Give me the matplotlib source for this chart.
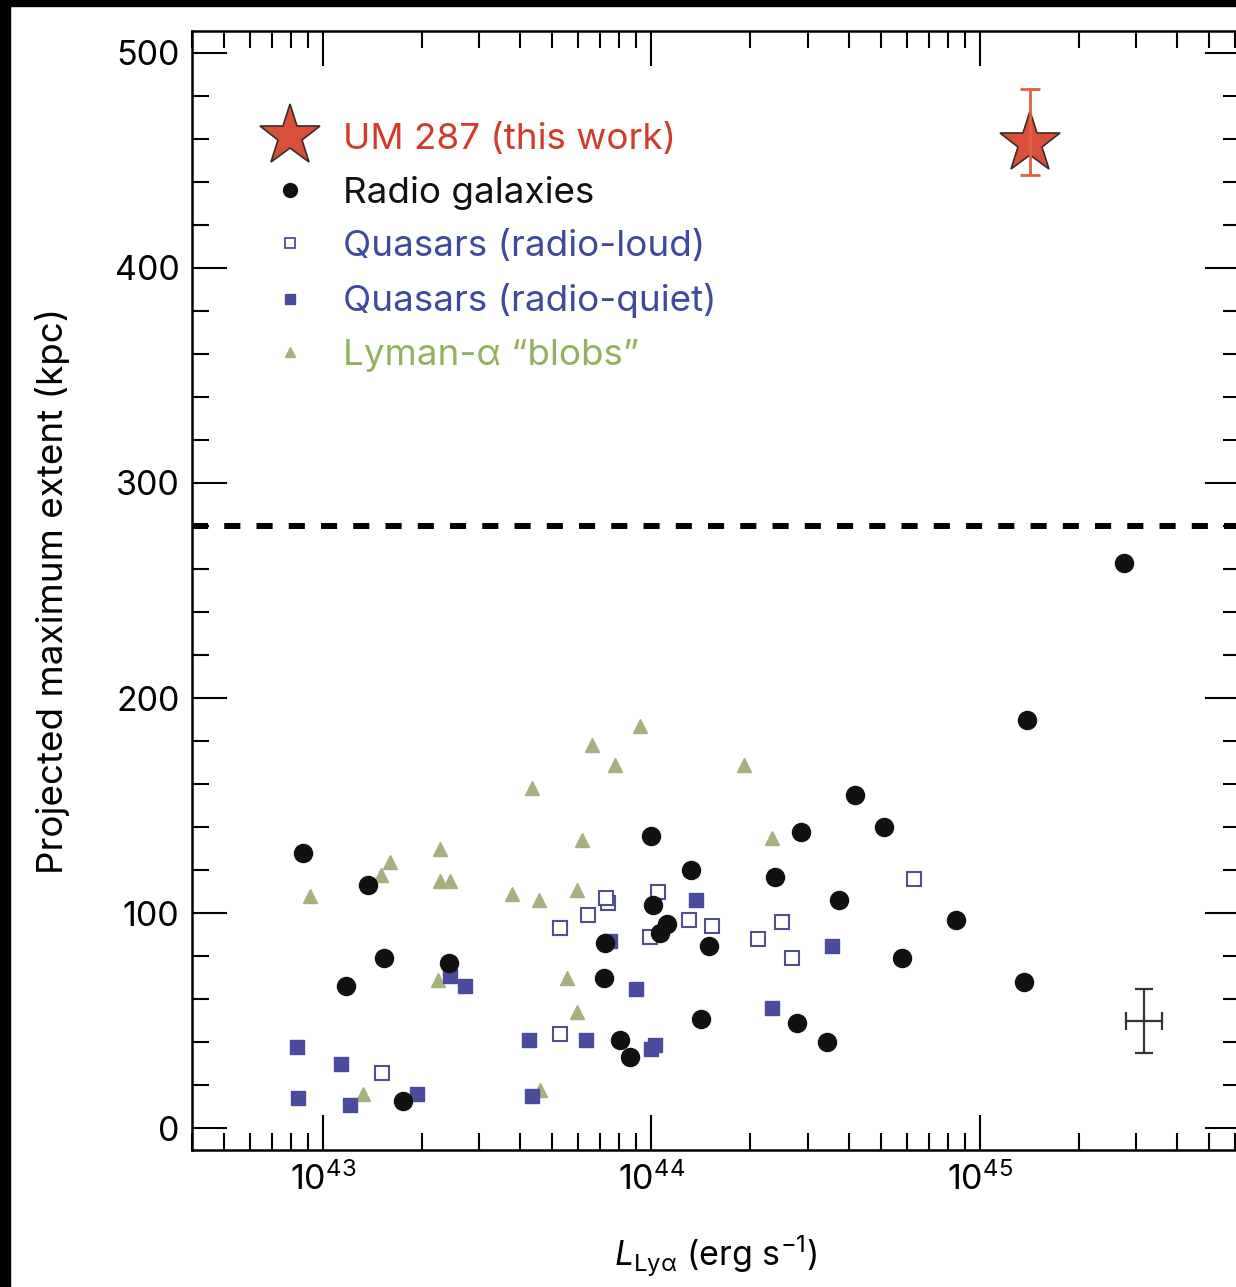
import matplotlib
matplotlib.use("Agg")
import matplotlib.pyplot as plt
from matplotlib.lines import Line2D
from matplotlib.patches import Rectangle
from matplotlib.ticker import MultipleLocator, LogLocator

plt.rcParams['font.family'] = ['Inter', 'DejaVu Sans']
plt.rcParams['mathtext.fontset'] = 'custom'
plt.rcParams['mathtext.rm'] = 'Inter'
plt.rcParams['mathtext.it'] = 'Inter:italic'

# Lya luminosity (erg/s) and projected maximum extent (kpc) per class
rg_L = [8.69e42, 1.37e43, 1.54e43, 1.18e43, 2.42e43, 1.75e43, 9.98e43, 1.32e44,
        1.01e44, 1.12e44, 1.06e44, 7.24e43, 1.50e44, 7.19e43, 1.42e44, 8.05e43,
        8.63e43, 4.18e44, 2.86e44, 5.13e44, 2.38e44, 3.74e44, 8.47e44, 5.81e44,
        2.78e44, 3.44e44, 1.39e45, 1.36e45, 2.74e45]
rg_size = [128, 113, 79, 66, 77, 13, 136, 120, 104, 95, 91, 86, 85, 70, 51, 41,
           33, 155, 138, 140, 117, 106, 97, 79, 49, 40, 190, 68, 263]

rlq_L = [1.52e43, 1.05e44, 7.38e43, 7.30e43, 6.44e43, 5.28e43, 1.30e44, 1.53e44,
         9.89e43, 5.28e43, 6.30e44, 2.50e44, 2.11e44, 2.69e44]
rlq_size = [26, 110, 105, 107, 99, 93, 97, 94, 89, 44, 116, 96, 88, 79]

rqq_L = [2.44e43, 2.71e43, 8.34e42, 1.14e43, 8.38e42, 1.21e43, 1.93e43, 7.50e43,
         1.37e44, 8.99e43, 4.26e43, 6.34e43, 1.03e44, 1.00e44, 4.34e43, 3.55e44,
         2.33e44]
rqq_size = [71, 66, 38, 30, 14, 11, 16, 87, 106, 65, 41, 41, 39, 37, 15, 85, 56]

lab_L = [2.28e43, 1.60e43, 1.50e43, 2.28e43, 2.44e43, 9.14e42, 3.77e43, 2.25e43,
         1.33e43, 9.25e43, 6.59e43, 7.76e43, 4.34e43, 1.91e44, 6.15e43, 5.94e43,
         4.54e43, 5.53e43, 5.94e43, 4.60e43, 2.33e44]
lab_size = [130, 124, 118, 115, 115, 108, 109, 69, 16, 187, 178, 169, 158, 169,
            134, 111, 106, 70, 54, 18, 135]

um_L = 1.42e45
um_size = 458
um_err = [[15], [25]]

# representative uncertainty
typ_L = 3.16e45
typ_size = 50
typ_Lerr = [[0.37e45], [0.44e45]]
typ_err = 15

size_limit = 280

star_c = '#d9503a'
blue = '#4b4b9e'
green = '#a5b27f'

fig = plt.figure(figsize=(12.36, 12.87), dpi=100)
ax = fig.add_axes([192 / 1236, 137 / 1287, 1048 / 1236, 1119 / 1287])

ax.axhline(size_limit, color='black', lw=4.3, dashes=(2.7, 2.7), zorder=1)

ax.plot(lab_L, lab_size, ls='none', marker='^', ms=10, color=green, zorder=2)
ax.plot(rlq_L, rlq_size, ls='none', marker='s', ms=9.5, mfc='white',
        mec='#50508f', mew=1.5, zorder=3)
ax.plot(rqq_L, rqq_size, ls='none', marker='s', ms=9.5, color=blue, zorder=4)
ax.plot(rg_L, rg_size, ls='none', marker='o', ms=13, color='#111111', zorder=5)

ax.plot(um_L, um_size, ls='none', marker='*', ms=46, mfc=star_c, mec='#3a2a2a',
        mew=1.2, zorder=6)
ax.errorbar(um_L, um_size, yerr=um_err, fmt='none', ecolor='#e0603f',
            elinewidth=2, capsize=7, capthick=2, zorder=7)

ax.errorbar(typ_L, typ_size, xerr=typ_Lerr, yerr=typ_err, fmt='none',
            ecolor='#333333', elinewidth=1.6, capsize=6.5, capthick=1.6, zorder=5)

ax.set_xscale('log')
ax.set_xlim(4e42, 6.2e45)
ax.set_ylim(-10, 510)
ax.set_yticks(range(0, 501, 100))
ax.yaxis.set_minor_locator(MultipleLocator(20))
ax.xaxis.set_major_locator(LogLocator(base=10))
ax.xaxis.set_minor_locator(LogLocator(base=10, subs=range(2, 10)))

ax.tick_params(which='both', direction='in', top=True, right=True,
               labelsize=24.5, width=1.5, pad=9)
ax.tick_params(which='major', length=25)
ax.tick_params(which='minor', length=12)
for s in ax.spines.values():
    s.set_linewidth(1.8)

ax.set_xlabel(r'$L_{\mathrm{Ly\alpha}}$ (erg s$^{-1}$)', fontsize=24.5, labelpad=26)
ax.set_ylabel('Projected maximum extent (kpc)', fontsize=26.5, labelpad=32)

handles = [
    Line2D([], [], ls='none', marker='*', ms=46, mfc=star_c, mec='#3a2a2a', mew=1.2),
    Line2D([], [], ls='none', marker='o', ms=10, color='#111111'),
    Line2D([], [], ls='none', marker='s', ms=6.5, mfc='white', mec='#50508f', mew=1.3),
    Line2D([], [], ls='none', marker='s', ms=6.5, color=blue),
    Line2D([], [], ls='none', marker='^', ms=6.5, color=green),
]
labels = ['UM 287 (this work)', 'Radio galaxies', 'Quasars (radio-loud)',
          'Quasars (radio-quiet)', 'Lyman-α “blobs”']
ax.legend(handles, labels, loc='upper left', bbox_to_anchor=(0.067, 0.918),
          frameon=False, fontsize=26.5, borderpad=0, borderaxespad=0,
          handlelength=1.5, handletextpad=0.7, labelspacing=0.55,
          labelcolor=['#d03b2b', '#111111', '#3e4a9b', '#3e4a9b', '#93b25e'])

# black frame strips along the left and top edges
fig.patches.append(Rectangle((0, 0), 10 / 1236, 1, transform=fig.transFigure,
                             color='black', zorder=10))
fig.patches.append(Rectangle((0, 1 - 6 / 1287), 1, 6 / 1287,
                             transform=fig.transFigure, color='black', zorder=10))

fig.savefig('out.png', dpi=100)
